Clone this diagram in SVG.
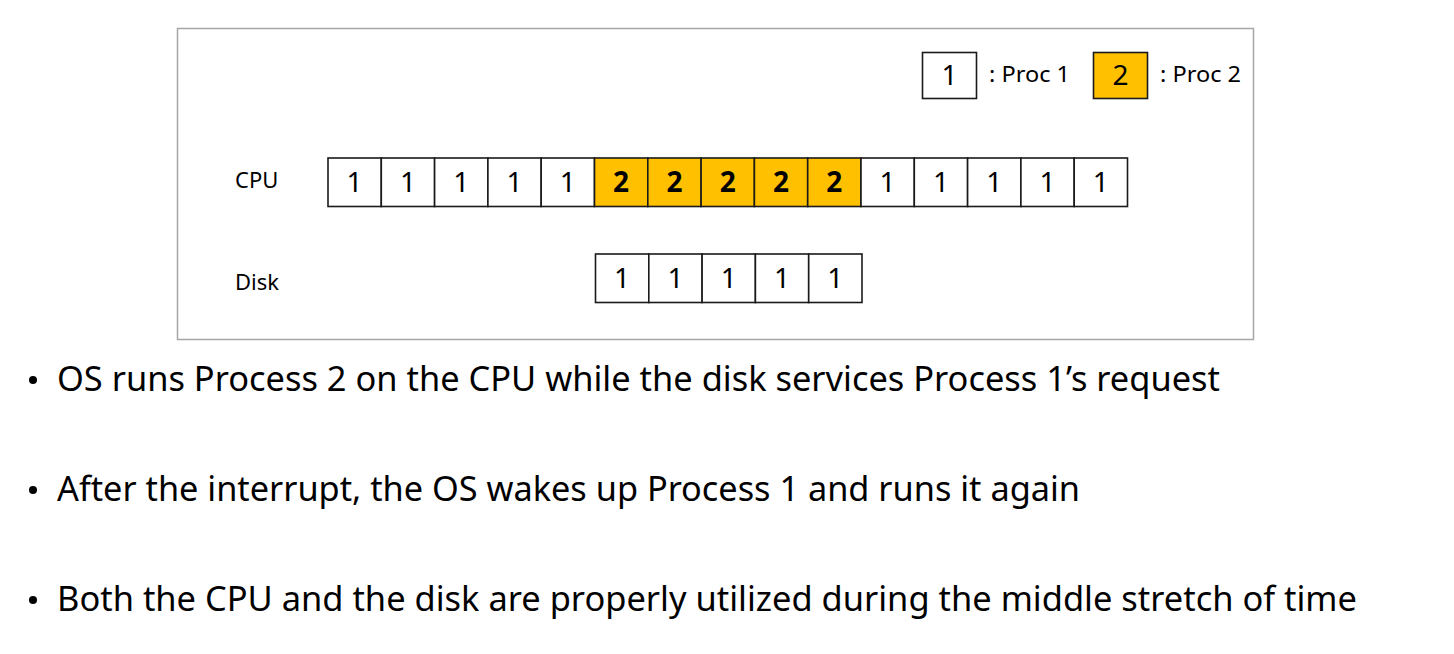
<svg xmlns="http://www.w3.org/2000/svg" width="1454" height="654" viewBox="0 0 1454 654">
<style>
text{font-family:"Noto Sans","Open Sans","DejaVu Sans",sans-serif;fill:#000}
.c{fill:#fff;stroke:#1a1a1a;stroke-width:1.6}
.o{fill:#FFC000;stroke:#1a1a1a;stroke-width:1.6}
.n{font-size:28px;text-anchor:middle}
.b{font-size:28px;text-anchor:middle;font-weight:bold}
.l{font-size:22px}
.t{font-size:34px}
</style>
<rect width="1454" height="654" fill="#fff"/>
<rect id="frame" x="177.5" y="28.5" width="1076" height="311" fill="none" stroke="#a6a6a6" stroke-width="1.5"/>
<g id="legend">
<rect class="c" x="922.5" y="52.5" width="54" height="46"/>
<text class="n" x="949.5" y="85">1</text>
<text class="l" x="989" y="82" textLength="81" lengthAdjust="spacingAndGlyphs">: Proc 1</text>
<rect class="o" x="1093.5" y="52.5" width="54" height="46"/>
<text class="n" x="1120.5" y="85">2</text>
<text class="l" x="1160" y="82" textLength="81" lengthAdjust="spacingAndGlyphs">: Proc 2</text>
</g>
<g id="cpu">
<text class="l" x="235" y="188">CPU</text>
<rect class="c" x="328" y="158" width="53.3" height="48.5"/><text class="n" x="354.6" y="192">1</text>
<rect class="c" x="381.3" y="158" width="53.3" height="48.5"/><text class="n" x="407.9" y="192">1</text>
<rect class="c" x="434.6" y="158" width="53.3" height="48.5"/><text class="n" x="461.2" y="192">1</text>
<rect class="c" x="487.9" y="158" width="53.3" height="48.5"/><text class="n" x="514.5" y="192">1</text>
<rect class="c" x="541.2" y="158" width="53.3" height="48.5"/><text class="n" x="567.8" y="192">1</text>
<rect class="o" x="594.5" y="158" width="53.3" height="48.5"/><text class="b" x="621.1" y="192">2</text>
<rect class="o" x="647.8" y="158" width="53.3" height="48.5"/><text class="b" x="674.4" y="192">2</text>
<rect class="o" x="701.1" y="158" width="53.3" height="48.5"/><text class="b" x="727.7" y="192">2</text>
<rect class="o" x="754.4" y="158" width="53.3" height="48.5"/><text class="b" x="781" y="192">2</text>
<rect class="o" x="807.7" y="158" width="53.3" height="48.5"/><text class="b" x="834.3" y="192">2</text>
<rect class="c" x="861" y="158" width="53.3" height="48.5"/><text class="n" x="887.6" y="192">1</text>
<rect class="c" x="914.3" y="158" width="53.3" height="48.5"/><text class="n" x="940.9" y="192">1</text>
<rect class="c" x="967.6" y="158" width="53.3" height="48.5"/><text class="n" x="994.2" y="192">1</text>
<rect class="c" x="1020.9" y="158" width="53.3" height="48.5"/><text class="n" x="1047.5" y="192">1</text>
<rect class="c" x="1074.2" y="158" width="53.3" height="48.5"/><text class="n" x="1100.8" y="192">1</text>
</g>
<g id="disk">
<text class="l" x="235" y="290">Disk</text>
<rect class="c" x="595.5" y="254" width="53.3" height="48.5"/><text class="n" x="622.1" y="288">1</text>
<rect class="c" x="648.8" y="254" width="53.3" height="48.5"/><text class="n" x="675.4" y="288">1</text>
<rect class="c" x="702.1" y="254" width="53.3" height="48.5"/><text class="n" x="728.7" y="288">1</text>
<rect class="c" x="755.4" y="254" width="53.3" height="48.5"/><text class="n" x="782" y="288">1</text>
<rect class="c" x="808.7" y="254" width="53.3" height="48.5"/><text class="n" x="835.3" y="288">1</text>
</g>
<g id="connectors"/>
<g id="bullets">
<circle cx="33" cy="380" r="4"/>
<text class="t" x="57" y="391" textLength="1163" lengthAdjust="spacingAndGlyphs">OS runs Process 2 on the CPU while the disk services Process 1’s request</text>
<circle cx="33" cy="490" r="4"/>
<text class="t" x="57" y="501" textLength="1023" lengthAdjust="spacingAndGlyphs">After the interrupt, the OS wakes up Process 1 and runs it again</text>
<circle cx="33" cy="600" r="4"/>
<text class="t" x="57" y="611" textLength="1300" lengthAdjust="spacingAndGlyphs">Both the CPU and the disk are properly utilized during the middle stretch of time</text>
</g>
</svg>
